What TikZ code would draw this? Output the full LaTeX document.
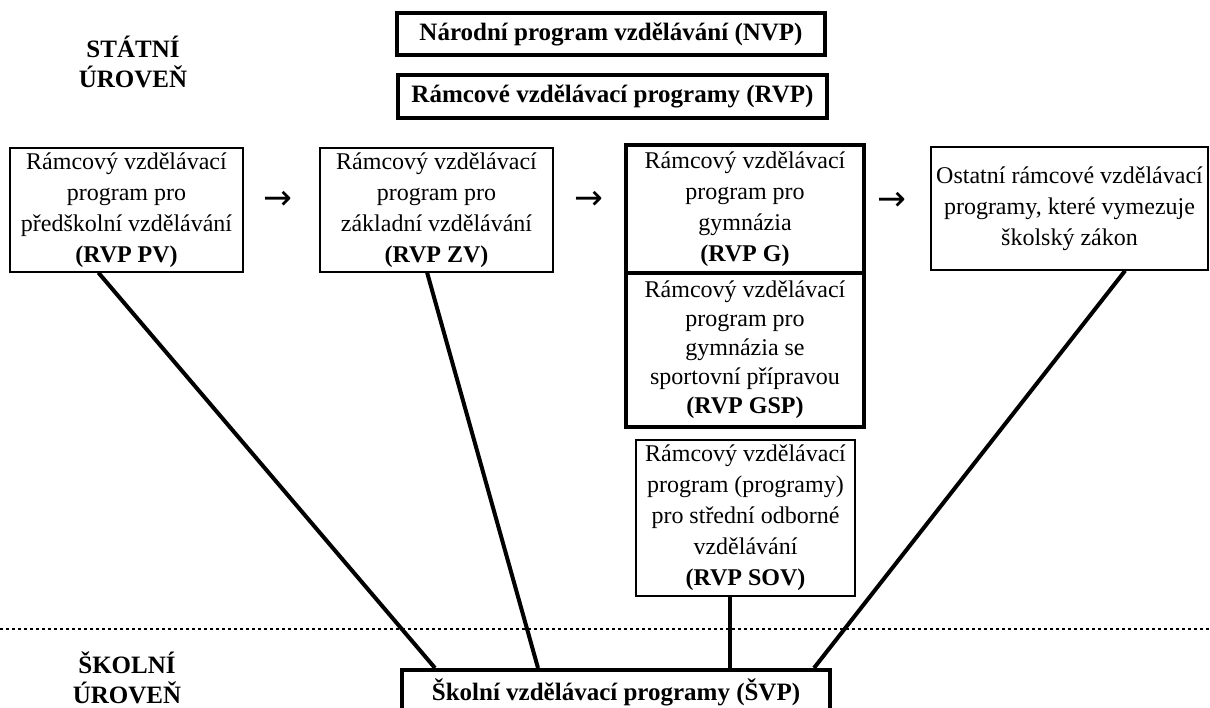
\documentclass[tikz,border=0pt]{standalone}
\usepackage{fontspec}
\setmainfont{Liberation Serif}
\newfontfamily\arrowfont{DejaVu Sans}
\usetikzlibrary{calc}
\tikzset{
  thinbox/.style={draw, line width=1.3pt, inner sep=0pt, align=center, font=\fontsize{24}{31}\selectfont},
  thickbox/.style={draw, line width=4pt, inner sep=0pt, align=center, font=\fontsize{24}{31}\selectfont},
  titlebox/.style={draw, line width=4pt, inner sep=0pt, align=center, font=\fontsize{25}{30}\selectfont\bfseries},
  level/.style={align=center, font=\fontsize{25}{30}\selectfont\bfseries},
  conn/.style={line width=4pt},
  arr/.style={font=\arrowfont\fontsize{23}{28}\selectfont, inner sep=0pt}
}
\newcommand{\rarr}{\scalebox{1.5}{→}}
\begin{document}
\begin{tikzpicture}[x=1pt,y=-1pt]
\clip (0,0) rectangle (1210,707);
\fill[white] (0,0) rectangle (1210,707);
% level labels
\node[level] (st) at (133,62) {STÁTNÍ\\ÚROVEŇ};
\node[level] (sk) at (127,678) {ŠKOLNÍ\\ÚROVEŇ};
% top boxes
\node[titlebox, minimum width=428pt, minimum height=42pt] (nvp) at (611,34) {Národní program vzdělávání (NVP)};
\node[titlebox, minimum width=429pt, minimum height=43pt] (rvp) at (612.5,96.5) {Rámcové vzdělávací programy (RVP)};
% row of boxes
\node[thinbox, minimum width=233pt, minimum height=124pt] (pv) at (126.5,210) {Rámcový vzdělávací\\program pro\\předškolní vzdělávání\\\textbf{(RVP PV)}};
\node[thinbox, minimum width=233pt, minimum height=124pt] (zv) at (436.5,210) {Rámcový vzdělávací\\program pro\\základní vzdělávání\\\textbf{(RVP ZV)}};
\node[thickbox, minimum width=238pt, minimum height=128pt] (g) at (745,209) {Rámcový vzdělávací\\program pro\\gymnázia\\\textbf{(RVP G)}};
\node[thickbox, minimum width=238pt, minimum height=154pt, font=\fontsize{24}{29}\selectfont] (gsp) at (745,350) {Rámcový vzdělávací\\program pro\\gymnázia se\\sportovní přípravou\\\textbf{(RVP GSP)}};
\node[thinbox, minimum width=277pt, minimum height=123pt] (ost) at (1069.5,208.5) {Ostatní rámcové vzdělávací\\programy, které vymezuje\\školský zákon};
\node[thinbox, minimum width=219pt, minimum height=156pt] (sov) at (745.5,518) {Rámcový vzdělávací\\program (programy)\\pro střední odborné\\vzdělávání\\\textbf{(RVP SOV)}};
% arrows between boxes
\node[arr] (a1) at (278,200) {\rarr};
\node[arr] (a2) at (589,200) {\rarr};
\node[arr] (a3) at (892,201) {\rarr};
% school box
\node[titlebox, minimum width=428pt, minimum height=44pt, anchor=north] (svp) at (616,668) {\raisebox{3pt}{Školní vzdělávací programy (ŠVP)}};
% dotted separator
\coordinate (dl) at (0,629);
\coordinate (dr) at (1210,629);
\draw[line width=2.6pt, dash pattern=on 2.6pt off 3.4pt] (dl) -- (dr);
% connectors
\draw[conn] ($(pv.south west)!0.38!(pv.south east)$) -- ($(svp.north west)+(35,0)$);
\draw[conn] ($(zv.south west)!0.46!(zv.south east)$) -- ($(svp.north west)+(138,0)$);
\coordinate (sv) at ($(sov.south)+(-16,0)$);
\draw[conn] (sv) -- (sv |- svp.north);
\draw[conn] ($(ost.south west)!0.70!(ost.south east)$) -- ($(svp.north east)+(-18,0)$);
\end{tikzpicture}
\end{document}
